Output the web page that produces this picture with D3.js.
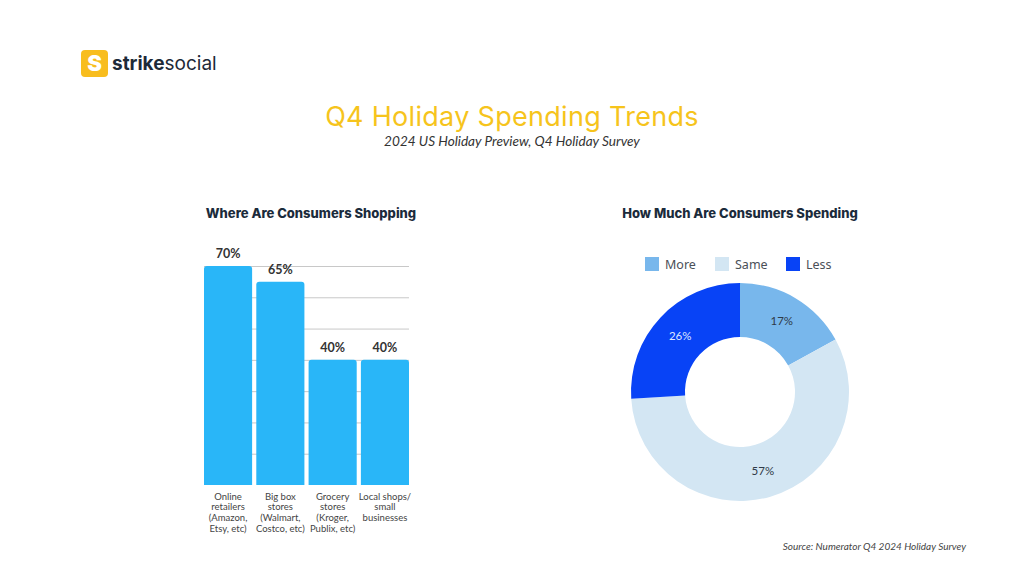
<!DOCTYPE html>
<html><head><meta charset="utf-8">
<script src="https://cdn.jsdelivr.net/npm/d3@7"></script>
<style>html,body{margin:0;padding:0;background:#fff;}svg{display:block;}</style>
</head><body>
<svg id="c" width="1024" height="576"></svg>
<script>
const barCategories = [
  ["Online","retailers","(Amazon,","Etsy, etc)"],
  ["Big box","stores","(Walmart,","Costco, etc)"],
  ["Grocery","stores","(Kroger,","Publix, etc)"],
  ["Local shops/","small","businesses"]
];
const barValues = [70, 65, 40, 40];
const gridTicks = [10, 20, 30, 40, 50, 60, 70];
const donutLabels = ["More", "Same", "Less"];
const donutValues = [17, 57, 26];
const donutColors = ["#78b7ec", "#d3e6f3", "#0843f6"];
const donutTextColors = ["#2f3a48", "#2f3a48", "#dfe6ff"];

const svg = d3.select("#c");

// Logo
const logo = svg.append("g");
logo.append("rect").attr("x",81).attr("y",50).attr("width",27).attr("height",27).attr("rx",4).attr("fill","#f8bd1e");
logo.append("text").attr("x",94.5).attr("y",71).attr("text-anchor","middle")
  .attr("font-family","Inter, 'Open Sans', sans-serif").attr("font-weight",900).attr("font-size",22)
  .attr("fill","#fff").text("S");
const lt = logo.append("text").attr("x",112).attr("y",70)
  .attr("font-family","Inter, 'Open Sans', sans-serif").attr("font-size",19).attr("fill","#1d2a38");
lt.append("tspan").attr("font-weight",700).text("strike");
lt.append("tspan").attr("font-weight",400).text("social");

// Titles
svg.append("text").attr("x",512).attr("y",126).attr("text-anchor","middle")
  .attr("font-family","Inter, 'Open Sans', sans-serif").attr("font-size",27).attr("font-weight",400)
  .attr("letter-spacing",0.3)
  .attr("fill","#f6c41c").text("Q4 Holiday Spending Trends");
svg.append("text").attr("x",512).attr("y",146).attr("text-anchor","middle")
  .attr("font-family","Lato, sans-serif").attr("font-style","italic").attr("font-size",13.6)
  .attr("fill","#333").text("2024 US Holiday Preview, Q4 Holiday Survey");

svg.append("text").attr("x",311).attr("y",218).attr("text-anchor","middle")
  .attr("font-family","Inter, 'Open Sans', sans-serif").attr("font-weight",800).attr("font-size",13)
  .attr("fill","#1b2b3b").text("Where Are Consumers Shopping");
svg.append("text").attr("x",740).attr("y",218).attr("text-anchor","middle")
  .attr("font-family","Inter, 'Open Sans', sans-serif").attr("font-weight",800).attr("font-size",13)
  .attr("fill","#1b2b3b").text("How Much Are Consumers Spending");

// Bar chart
const x = d3.scaleBand().domain(d3.range(barValues.length)).range([204, 409]).paddingInner(0.08).paddingOuter(0);
const y = d3.scaleLinear().domain([0, 70]).range([485, 266]);

const grid = svg.append("g");
grid.selectAll("line").data(gridTicks).join("line")
  .attr("x1",204).attr("x2",409)
  .attr("y1",d=>y(d)+0.5).attr("y2",d=>y(d)+0.5)
  .attr("stroke","#c8c8c8").attr("stroke-width",1);

const r = 3;
svg.append("g").selectAll("path").data(barValues).join("path")
  .attr("fill","#29b6f8")
  .attr("d",(d,i)=>{
    const x0 = x(i), w = x.bandwidth(), t = y(d), b = y(0);
    return `M${x0},${b}V${t+r}Q${x0},${t} ${x0+r},${t}H${x0+w-r}Q${x0+w},${t} ${x0+w},${t+r}V${b}Z`;
  });

svg.append("g").selectAll("text").data(barValues).join("text")
  .attr("x",(d,i)=>x(i)+x.bandwidth()/2).attr("y",d=>y(d)-8)
  .attr("text-anchor","middle").attr("font-family","Lato, sans-serif").attr("font-weight",700)
  .attr("font-size",12.5).attr("fill","#333").text(d=>d+"%");

const cat = svg.append("g").selectAll("text").data(barCategories).join("text")
  .attr("text-anchor","middle").attr("font-family","Lato, sans-serif").attr("font-size",9.5)
  .attr("fill","#444");
cat.each(function(lines,i){
  d3.select(this).selectAll("tspan").data(lines).join("tspan")
    .attr("x",x(i)+x.bandwidth()/2).attr("y",(l,j)=>499.5+j*10.7).text(l=>l);
});

// Donut
const cx = 740, cy = 392;
const pie = d3.pie().sort(null).value(d=>d);
const arc = d3.arc().innerRadius(55).outerRadius(109);
const arcs = pie(donutValues);
const dg = svg.append("g").attr("transform",`translate(${cx},${cy})`);
dg.selectAll("path").data(arcs).join("path").attr("d",arc).attr("fill",(d,i)=>donutColors[i]);
dg.selectAll("text").data(arcs).join("text")
  .attr("transform",d=>`translate(${arc.centroid(d)})`).attr("dy","0.35em")
  .attr("text-anchor","middle").attr("font-family","Lato, sans-serif").attr("font-size",11.5)
  .attr("fill",(d,i)=>donutTextColors[i]).text(d=>d.data+"%");

// Legend
const legendX = [645, 715, 786];
const lg = svg.append("g").selectAll("g").data(donutLabels).join("g")
  .attr("transform",(d,i)=>`translate(${legendX[i]},257)`);
lg.append("rect").attr("width",14).attr("height",14).attr("fill",(d,i)=>donutColors[i]);
lg.append("text").attr("x",20).attr("y",11.5).attr("font-family","'Noto Sans', sans-serif")
  .attr("font-size",12.5).attr("fill","#4a4f57").text(d=>d);

// Source
svg.append("text").attr("x",966).attr("y",550).attr("text-anchor","end")
  .attr("font-family","Lato, sans-serif").attr("font-style","italic").attr("font-size",10)
  .attr("fill","#444").text("Source: Numerator Q4 2024 Holiday Survey");
</script>
</body></html>
